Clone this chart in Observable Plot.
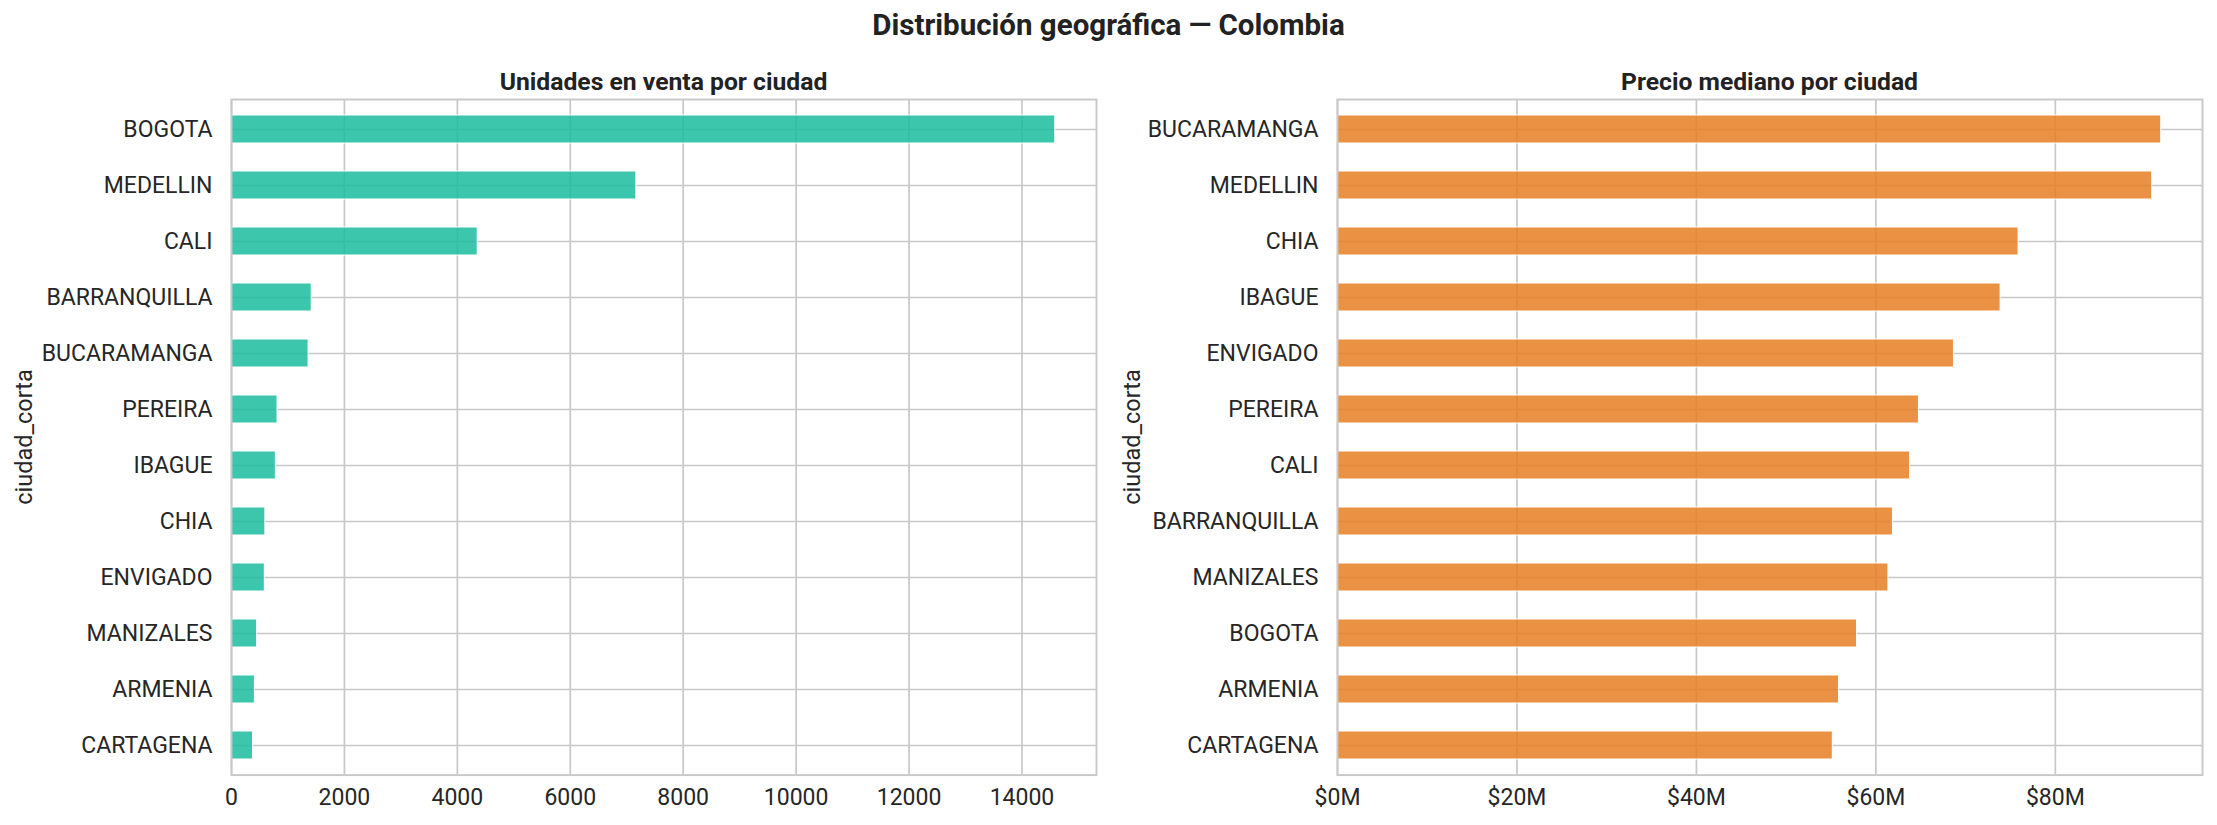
<!DOCTYPE html>
<html><head><meta charset="utf-8">
<script src="https://cdn.jsdelivr.net/npm/d3@7"></script>
<script src="https://cdn.jsdelivr.net/npm/@observablehq/plot@0.6"></script>
<style>
body{margin:0;background:#fff;font-family:Roboto,sans-serif;color:#262626}
#root{position:relative;width:2217px;height:825px;overflow:hidden;background:#fff}
.t{position:absolute;white-space:nowrap;transform:translate(-50%,-50%);font-weight:700;color:#222222}
.yl{position:absolute;white-space:nowrap;transform:translate(-50%,-50%) rotate(-90deg);font-size:23.5px;color:#262626}
#root svg{position:absolute;top:0}
</style></head><body><div id="root"></div>
<script>
// ---- data ----
const citiesUnits = ["BOGOTA","MEDELLIN","CALI","BARRANQUILLA","BUCARAMANGA","PEREIRA","IBAGUE","CHIA","ENVIGADO","MANIZALES","ARMENIA","CARTAGENA"];
const units = [14590, 7170, 4360, 1420, 1365, 815, 785, 600, 590, 454, 414, 382];
const unitTicks = [0, 2000, 4000, 6000, 8000, 10000, 12000, 14000];

const citiesPrice = ["BUCARAMANGA","MEDELLIN","CHIA","IBAGUE","ENVIGADO","PEREIRA","CALI","BARRANQUILLA","MANIZALES","BOGOTA","ARMENIA","CARTAGENA"];
const prices = [91.8e6, 90.8e6, 75.9e6, 73.9e6, 68.7e6, 64.8e6, 63.8e6, 61.9e6, 61.4e6, 57.9e6, 55.9e6, 55.2e6];
const priceTicks = [0, 20e6, 40e6, 60e6, 80e6];

const mainTitle = "Distribución geográfica — Colombia";
const leftTitle = "Unidades en venta por ciudad";
const rightTitle = "Precio mediano por ciudad";
const yLabel = "ciudad_corta";

const FONT = "Roboto, sans-serif";

function panel({cats, vals, color, domainX, ticks, fmt, width, marginLeft, marginRight}) {
  const data = cats.map((c, i) => ({c, v: vals[i]}));
  return Plot.plot({
    width, height: 825, marginTop: 99, marginBottom: 50.4, marginLeft, marginRight,
    style: {fontFamily: FONT, fontSize: "23px", color: "#262626", background: "transparent", overflow: "visible"},
    x: {domain: domainX, label: null},
    y: {domain: cats, paddingInner: 0.5, paddingOuter: 0.25, label: null},
    marks: [
      Plot.gridX(ticks, {stroke: "#c8c8c8", strokeOpacity: 1, strokeWidth: 1.7}),
      Plot.gridY(cats, {stroke: "#c8c8c8", strokeOpacity: 1, strokeWidth: 1.7}),
      Plot.barX(data, {x: "v", y: "c", fill: color, fillOpacity: 0.85, stroke: "white", strokeWidth: 1}),
      Plot.frame({stroke: "#c8c8c8", strokeWidth: 1.9}),
      Plot.axisX({ticks, tickFormat: fmt, tickSize: 0, tickPadding: 14, label: null}),
      Plot.axisY({tickSize: 0, tickPadding: 19, label: null})
    ]
  });
}

const root = document.getElementById("root");

const left = panel({cats: citiesUnits, vals: units, color: "#1abc9c", domainX: [0, 15320],
  ticks: unitTicks, fmt: d => String(d), width: 1108, marginLeft: 231, marginRight: 12});
left.style.left = "0px";
root.appendChild(left);

const right = panel({cats: citiesPrice, vals: prices, color: "#e67e22", domainX: [0, 96.4e6],
  ticks: priceTicks, fmt: d => `$${Math.round(d / 1e6)}M`, width: 1109, marginLeft: 229, marginRight: 15});
right.style.left = "1108px";
root.appendChild(right);

function addText(cls, txt, x, y, size) {
  const d = document.createElement("div");
  d.className = cls; d.textContent = txt;
  d.style.left = x + "px"; d.style.top = y + "px";
  if (size) d.style.fontSize = size + "px";
  root.appendChild(d);
}
addText("t", mainTitle, 1108.5, 25, 29.5);
addText("t", leftTitle, 663.5, 81, 24.7);
addText("t", rightTitle, 1769.5, 81, 24.7);
addText("yl", yLabel, 24, 437);
addText("yl", yLabel, 1132, 437);
</script></body></html>
